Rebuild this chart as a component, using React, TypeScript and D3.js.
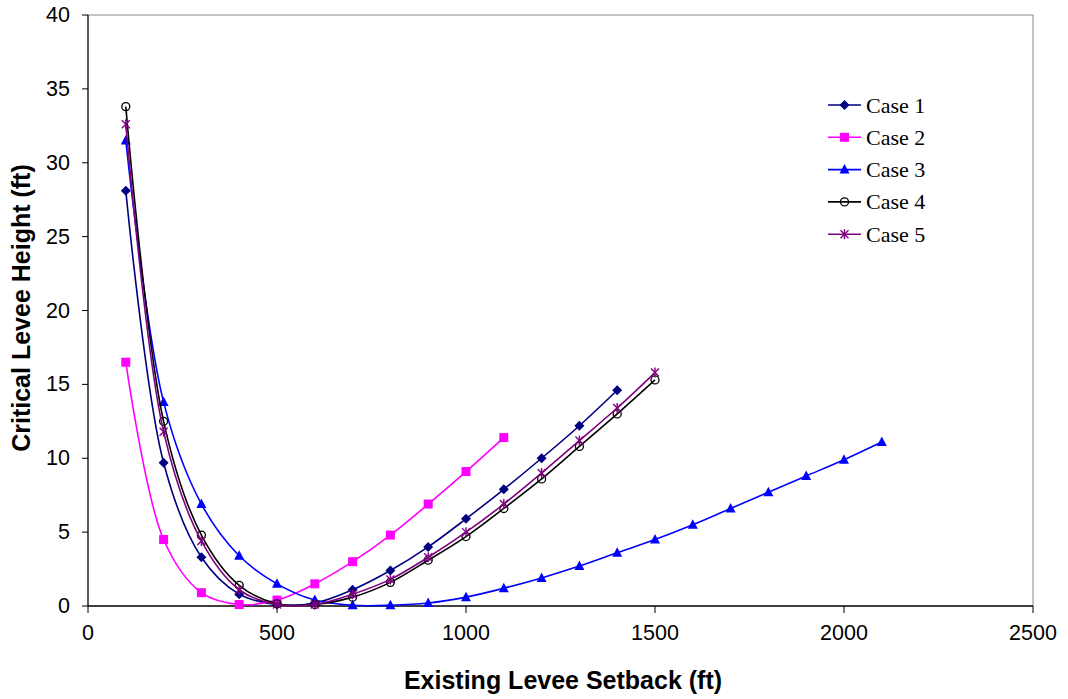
import React from "react";
import * as d3 from "d3";

const xs1 = [100, 200, 300, 400, 500, 600, 700, 800, 900, 1000, 1100, 1200, 1300, 1400];
const case1 = [28.1, 9.7, 3.3, 0.8, 0.1, 0.2, 1.1, 2.4, 4.0, 5.9, 7.9, 10.0, 12.2, 14.6];
const xs2 = [100, 200, 300, 400, 500, 600, 700, 800, 900, 1000, 1100];
const case2 = [16.5, 4.5, 0.9, 0.1, 0.4, 1.5, 3.0, 4.8, 6.9, 9.1, 11.4];
const xs3 = [100, 200, 300, 400, 500, 600, 700, 800, 900, 1000, 1100, 1200, 1300, 1400, 1500, 1600, 1700, 1800, 1900, 2000, 2100];
const case3 = [31.5, 13.8, 6.9, 3.4, 1.5, 0.4, 0.05, 0.05, 0.2, 0.6, 1.2, 1.9, 2.7, 3.6, 4.5, 5.5, 6.6, 7.7, 8.8, 9.9, 11.1];
const xs45 = [100, 200, 300, 400, 500, 600, 700, 800, 900, 1000, 1100, 1200, 1300, 1400, 1500];
const case4 = [33.8, 12.5, 4.8, 1.4, 0.15, 0.1, 0.6, 1.6, 3.1, 4.7, 6.6, 8.6, 10.8, 13.0, 15.3];
const case5 = [32.6, 11.8, 4.4, 1.1, 0.1, 0.1, 0.8, 1.8, 3.3, 5.0, 6.9, 9.0, 11.2, 13.4, 15.8];

const xTicks = [0, 500, 1000, 1500, 2000, 2500];
const yTicks = [0, 5, 10, 15, 20, 25, 30, 35, 40];

const seriesNames = ["Case 1", "Case 2", "Case 3", "Case 4", "Case 5"];

type Marker = "diamond" | "square" | "triangle" | "circle" | "star";

const series = [
  { name: seriesNames[0], xs: xs1, ys: case1, color: "#000080", marker: "diamond" as Marker },
  { name: seriesNames[1], xs: xs2, ys: case2, color: "#FF00FF", marker: "square" as Marker },
  { name: seriesNames[2], xs: xs3, ys: case3, color: "#0000FF", marker: "triangle" as Marker },
  { name: seriesNames[3], xs: xs45, ys: case4, color: "#000000", marker: "circle" as Marker },
  { name: seriesNames[4], xs: xs45, ys: case5, color: "#800080", marker: "star" as Marker },
];

const left = 88;
const right = 1033;
const top = 15;
const bottom = 606;

function MarkerShape({ type, x, y, color }: { type: Marker; x: number; y: number; color: string }) {
  switch (type) {
    case "diamond":
      return <path d={`M${x},${y - 5}L${x + 5},${y}L${x},${y + 5}L${x - 5},${y}Z`} fill={color} />;
    case "square":
      return <rect x={x - 4.5} y={y - 4.5} width={9} height={9} fill={color} />;
    case "triangle":
      return <path d={`M${x},${y - 5.5}L${x + 5},${y + 4}L${x - 5},${y + 4}Z`} fill={color} />;
    case "circle":
      return <circle cx={x} cy={y} r={4} fill="none" stroke={color} strokeWidth={1.3} />;
    case "star":
      return (
        <g stroke={color} strokeWidth={1.4}>
          <line x1={x - 4} y1={y - 4} x2={x + 4} y2={y + 4} />
          <line x1={x - 4} y1={y + 4} x2={x + 4} y2={y - 4} />
          <line x1={x} y1={y - 5} x2={x} y2={y + 5} />
        </g>
      );
  }
}

export default function App() {
  const x = d3.scaleLinear().domain([0, 2500]).range([left, right]);
  const y = d3.scaleLinear().domain([0, 40]).range([bottom, top]);
  const line = d3
    .line<[number, number]>()
    .x((d) => x(d[0]))
    .y((d) => y(d[1]))
    .curve(d3.curveCatmullRom.alpha(0.5));

  const legendX = 828;
  const legendY0 = 105;
  const legendDy = 32.3;
  const sans = "Liberation Sans, Arial, sans-serif";

  return (
    <svg width={1068} height={699} style={{ position: "absolute", left: 0, top: 0, background: "#fff" }}>
      <rect x={0} y={0} width={1068} height={699} fill="#fff" />
      <line x1={left} y1={top} x2={right} y2={top} stroke="#888" strokeWidth={1} />
      <line x1={right} y1={top} x2={right} y2={bottom} stroke="#888" strokeWidth={1} />
      <line x1={left} y1={top} x2={left} y2={bottom} stroke="#000" strokeWidth={1.3} />
      <line x1={left} y1={bottom} x2={right} y2={bottom} stroke="#000" strokeWidth={1.3} />
      {yTicks.map((t) => (
        <g key={"y" + t}>
          <line x1={left - 6} y1={y(t)} x2={left} y2={y(t)} stroke="#000" strokeWidth={1} />
          <text x={70} y={y(t)} textAnchor="end" dominantBaseline="central" fontFamily={sans} fontSize={21.5}>
            {t}
          </text>
        </g>
      ))}
      {xTicks.map((t) => (
        <g key={"x" + t}>
          <line x1={x(t)} y1={bottom} x2={x(t)} y2={bottom + 7} stroke="#000" strokeWidth={1} />
          <text x={x(t)} y={640} textAnchor="middle" fontFamily={sans} fontSize={21.5}>
            {t}
          </text>
        </g>
      ))}
      <text x={563} y={689} textAnchor="middle" fontFamily={sans} fontSize={25} fontWeight="bold">
        Existing Levee Setback (ft)
      </text>
      <text
        transform={`translate(30,308) rotate(-90)`}
        textAnchor="middle"
        fontFamily={sans}
        fontSize={25}
        fontWeight="bold"
      >
        Critical Levee Height (ft)
      </text>
      {series.map((s) => {
        const pts: [number, number][] = s.xs.map((v, i) => [v, s.ys[i]]);
        return (
          <g key={s.name}>
            <path d={line(pts) || ""} fill="none" stroke={s.color} strokeWidth={1.6} />
            {pts.map((p, i) => (
              <MarkerShape key={i} type={s.marker} x={x(p[0])} y={y(p[1])} color={s.color} />
            ))}
          </g>
        );
      })}
      {series.map((s, i) => {
        const ly = legendY0 + i * legendDy;
        return (
          <g key={"leg" + s.name}>
            <line x1={legendX} y1={ly} x2={legendX + 33} y2={ly} stroke={s.color} strokeWidth={1.6} />
            <MarkerShape type={s.marker} x={legendX + 16.5} y={ly} color={s.color} />
            <text x={legendX + 38} y={ly} dominantBaseline="central" fontFamily="Liberation Serif, Times New Roman, serif" fontSize={22}>
              {s.name}
            </text>
          </g>
        );
      })}
    </svg>
  );
}
